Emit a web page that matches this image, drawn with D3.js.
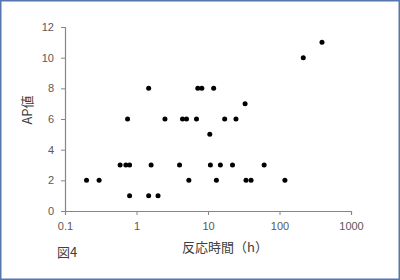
<!DOCTYPE html>
<html>
<head>
<meta charset="utf-8">
<script src="https://d3js.org/d3.v7.min.js"></script>
<style>
  body { margin: 0; background: #fff; }
  text { font-family: "Noto Sans CJK JP", "DejaVu Sans", sans-serif; }
</style>
</head>
<body>
<div id="vis"></div>
<script>
// reaction time (h) and AP value
var hours = [0.2, 0.3, 0.59, 0.71, 0.8, 0.8, 0.75, 1.48, 1.6, 1.48, 2.0, 2.5, 4.0, 4.4, 5.0, 5.4,
             6.9, 7.2, 8.2, 10.6, 10.8, 12, 13.1, 14.9, 17.1, 22, 24.6, 33, 34, 40, 61, 119, 215, 393];
var apValues = [2, 2, 3, 3, 3, 1, 6, 8, 3, 1, 1, 6, 3, 6, 6, 2,
                6, 8, 8, 5, 3, 8, 2, 3, 6, 3, 6, 7, 2, 2, 3, 2, 10, 11];
var xTicks = [0.1, 1, 10, 100, 1000];
var yTicks = [0, 2, 4, 6, 8, 10, 12];

var W = 400, H = 280;
var plotL = 65, plotR = 351, plotT = 27, plotB = 211;

var svg = d3.select("#vis").append("svg")
  .attr("width", W)
  .attr("height", H);

// outer frame
svg.append("rect")
  .attr("x", 0.75).attr("y", 0.75)
  .attr("width", W - 1.5).attr("height", H - 1.5)
  .attr("fill", "#fff")
  .attr("stroke", "#5677ab")
  .attr("stroke-width", 1.5);

var x = d3.scaleLog().domain([0.1, 1000]).range([plotL, plotR]);
var y = d3.scaleLinear().domain([0, 12]).range([plotB, plotT]);

var xAxis = svg.append("g")
  .attr("transform", "translate(0," + plotB + ")")
  .call(d3.axisBottom(x).tickValues(xTicks).tickFormat(d3.format("")).tickSizeOuter(0).tickSize(4).tickPadding(7));

var yAxis = svg.append("g")
  .attr("transform", "translate(" + plotL + ",0)")
  .call(d3.axisLeft(y).tickValues(yTicks).tickSizeOuter(0).tickSize(4).tickPadding(7));

[xAxis, yAxis].forEach(function(g) {
  g.select(".domain").attr("stroke", "#868686").attr("stroke-width", 1.2);
  g.selectAll(".tick line").attr("stroke", "#868686");
  g.selectAll(".tick text")
    .attr("fill", "#595959")
    .style("font-size", "11px")
    .style("font-family", "'Liberation Sans', Arial, sans-serif");
});

// points
svg.selectAll(".dot")
  .data(hours.map(function(h, i) { return {h: h, v: apValues[i]}; }))
  .enter().append("circle")
  .attr("class", "dot")
  .attr("cx", function(d) { return x(d.h); })
  .attr("cy", function(d) { return y(d.v); })
  .attr("r", 2.5)
  .attr("fill", "#000");

// axis titles
svg.append("text")
  .attr("transform", "translate(32,110) rotate(-90)")
  .attr("text-anchor", "middle")
  .attr("fill", "#404040")
  .style("font-size", "13px")
  .text("AP値");

svg.append("text")
  .attr("x", 225)
  .attr("y", 252)
  .attr("text-anchor", "middle")
  .attr("fill", "#404040")
  .style("font-size", "13px")
  .text("反応時間（h）");

svg.append("text")
  .attr("x", 57)
  .attr("y", 257)
  .attr("fill", "#404040")
  .style("font-size", "13px")
  .text("図4");
</script>
</body>
</html>
